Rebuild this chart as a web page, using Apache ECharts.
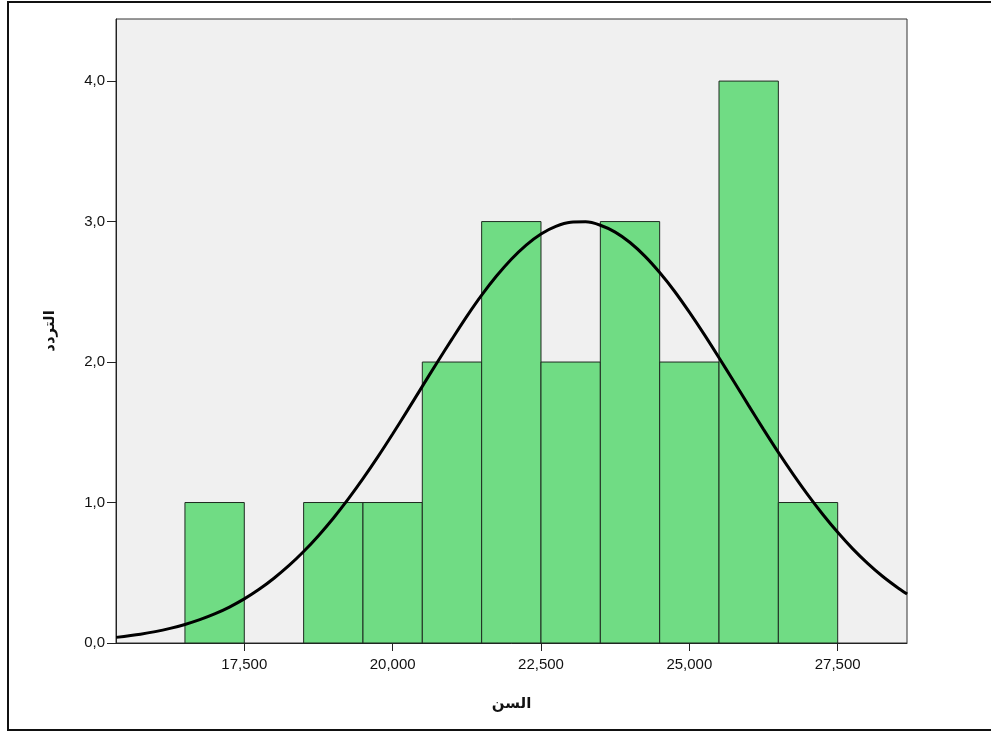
<!DOCTYPE html>
<html>
<head>
<meta charset="utf-8">
<script src="https://cdn.jsdelivr.net/npm/echarts@6/dist/echarts.min.js"></script>
<style>
html,body{margin:0;padding:0;background:#fff;}
#chart{width:991px;height:731px;}
</style>
</head>
<body>
<div id="chart"></div>
<script>
// Histogram bins (age): start, end, frequency
var binStart = [16.5, 17.5, 18.5, 19.5, 20.5, 21.5, 22.5, 23.5, 24.5, 25.5, 26.5];
var binEnd   = [17.5, 18.5, 19.5, 20.5, 21.5, 22.5, 23.5, 24.5, 25.5, 26.5, 27.5];
var binCount = [1, 0, 1, 1, 2, 3, 2, 3, 2, 4, 1];

// Normal curve
var curveX = [15.34, 15.75, 16, 16.25, 16.5, 16.75, 17, 17.25, 17.5, 17.75, 18, 18.25, 18.5, 18.75, 19, 19.25, 19.5, 19.75, 20, 20.25, 20.5, 20.75, 21, 21.25, 21.5, 21.75, 22, 22.25, 22.5, 22.75, 23, 23.25, 23.5, 23.75, 24, 24.25, 24.5, 24.75, 25, 25.25, 25.5, 25.75, 26, 26.25, 26.5, 26.75, 27, 27.25, 27.5, 27.75, 28, 28.25, 28.5, 28.67];
var curveY = [0.04, 0.063, 0.081, 0.104, 0.132, 0.166, 0.207, 0.256, 0.314, 0.382, 0.461, 0.55, 0.651, 0.764, 0.888, 1.024, 1.17, 1.325, 1.488, 1.656, 1.827, 1.997, 2.163, 2.325, 2.476, 2.612, 2.732, 2.833, 2.912, 2.966, 2.995, 2.998, 2.974, 2.925, 2.851, 2.754, 2.637, 2.504, 2.355, 2.197, 2.031, 1.861, 1.69, 1.521, 1.357, 1.201, 1.053, 0.915, 0.788, 0.672, 0.569, 0.477, 0.397, 0.348];

// Axis ticks
var xTicks = [17.5, 20, 22.5, 25, 27.5];
var yTicks = [0, 1, 2, 3, 4];
var xTitle = 'السن';
var yTitle = 'التردد';

var barData = [];
for (var i = 0; i < binStart.length; i++) {
  if (binCount[i] > 0) barData.push([binStart[i], binEnd[i], binCount[i]]);
}
var lineData = curveX.map(function (x, i) { return [x, curveY[i]]; });

var chart = echarts.init(document.getElementById('chart'), null, {renderer: 'canvas'});
var labelFont = {fontFamily: 'Liberation Sans, Arial, sans-serif', fontSize: 15, color: '#111'};
chart.setOption({
  animation: false,
  backgroundColor: '#fff',
  graphic: [{
    type: 'rect',
    shape: {x: 8, y: 2, width: 1000, height: 728},
    style: {fill: 'none', stroke: '#111', lineWidth: 2},
    silent: true
  }],
  grid: {
    left: 116, top: 19, width: 791, height: 624,
    show: true, backgroundColor: '#f0f0f0', borderColor: '#333', borderWidth: 1
  },
  xAxis: {
    type: 'value', min: 15.338, max: 28.668,
    splitLine: {show: false},
    axisLine: {show: true, onZero: false, lineStyle: {color: '#222', width: 1}},
    axisTick: {show: true, length: 8, customValues: xTicks, lineStyle: {color: '#222'}},
    axisLabel: Object.assign({
      customValues: xTicks, margin: 14,
      formatter: function (v) { return v.toFixed(3).replace('.', ','); }
    }, labelFont),
    name: xTitle, nameLocation: 'middle', nameGap: 54,
    nameTextStyle: {fontFamily: 'DejaVu Sans', fontWeight: 'bold', fontSize: 15, color: '#111'}
  },
  yAxis: {
    type: 'value', min: 0, max: 4.442,
    splitLine: {show: false},
    axisLine: {show: true, lineStyle: {color: '#222', width: 1}},
    axisTick: {show: true, length: 9, customValues: yTicks, lineStyle: {color: '#222'}},
    axisLabel: Object.assign({
      customValues: yTicks, margin: 11,
      formatter: function (v) { return v.toFixed(1).replace('.', ','); }
    }, labelFont),
    name: yTitle, nameLocation: 'middle', nameGap: 58, nameRotate: 90,
    nameTextStyle: {fontFamily: 'DejaVu Sans', fontWeight: 'bold', fontSize: 15, color: '#111'}
  },
  series: [{
    type: 'custom',
    data: barData,
    encode: {x: [0, 1], y: 2},
    renderItem: function (params, api) {
      var p0 = api.coord([api.value(0), 0]);
      var p1 = api.coord([api.value(1), api.value(2)]);
      return {
        type: 'rect',
        shape: {x: p0[0], y: p1[1], width: p1[0] - p0[0], height: p0[1] - p1[1]},
        style: {fill: '#70dc84', stroke: '#1e2a20', lineWidth: 1}
      };
    }
  }, {
    type: 'line',
    data: lineData,
    smooth: 0.3,
    symbol: 'none',
    clip: true,
    lineStyle: {color: '#000', width: 3}
  }]
});
</script>
</body>
</html>
